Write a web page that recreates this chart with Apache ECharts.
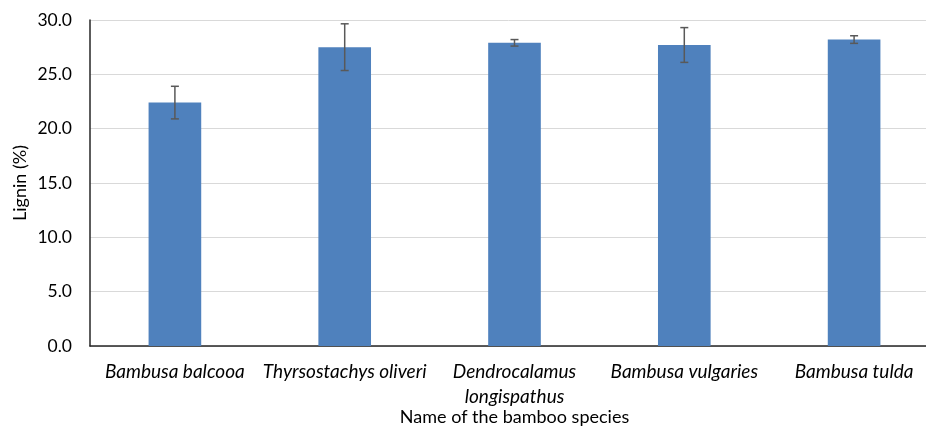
<!DOCTYPE html>
<html><head><meta charset="utf-8">
<script src="https://cdn.jsdelivr.net/npm/echarts@6/dist/echarts.min.js"></script>
<style>html,body{margin:0;padding:0;background:#fff}#c{width:926px;height:426px}</style>
</head><body><div id="c"></div>
<script>
var categories = ['Bambusa balcooa','Thyrsostachys oliveri','Dendrocalamus\nlongispathus','Bambusa vulgaries','Bambusa tulda'];
var lignin = [22.4, 27.5, 27.9, 27.7, 28.2];
var errors = [1.5, 2.15, 0.3, 1.6, 0.35];
var yTicks = {min: 0, max: 30, interval: 5};

var chart = echarts.init(document.getElementById('c'));
var errData = lignin.map(function(v,i){return [i, v - errors[i], v + errors[i]];});
chart.setOption({
  animation: false,
  grid: {left: 90, top: 20, width: 849, height: 326, outerBoundsMode: 'none', containLabel: false},
  xAxis: {
    type: 'category', data: categories,
    name: 'Name of the bamboo species', nameLocation: 'middle', nameGap: 62, nameMoveOverlap: false,
    nameTextStyle: {fontFamily: 'Lato', fontSize: 18, color: '#000'},
    axisLine: {lineStyle: {color: '#262626', width: 1.5}},
    axisTick: {show: false},
    axisLabel: {fontFamily: 'Lato', fontStyle: 'italic', fontSize: 19, color: '#000', margin: 13, lineHeight: 25, interval: 0}
  },
  yAxis: {
    type: 'value', min: yTicks.min, max: yTicks.max, interval: yTicks.interval,
    name: 'Lignin (%)', nameLocation: 'middle', nameGap: 61, nameRotate: 90, nameMoveOverlap: false,
    nameTextStyle: {fontFamily: 'Lato', fontSize: 18, color: '#000'},
    axisLine: {show: true, lineStyle: {color: '#262626', width: 1.5}},
    axisTick: {show: false},
    splitLine: {lineStyle: {color: '#d9d9d9', width: 1}},
    axisLabel: {fontFamily: 'Lato', fontSize: 17.5, color: '#000', margin: 18, formatter: function(v){return v.toFixed(1);}}
  },
  series: [{
    type: 'bar', data: lignin, barWidth: '31%',
    itemStyle: {color: '#4f81bd'}
  },{
    type: 'custom', data: errData, z: 10,
    renderItem: function(params, api){
      var x = api.value(0);
      var lo = api.coord([x, api.value(1)]);
      var hi = api.coord([x, api.value(2)]);
      var w = 4;
      var st = {stroke: '#595959', lineWidth: 1.5};
      return {type: 'group', children: [
        {type: 'line', shape: {x1: lo[0], y1: lo[1], x2: hi[0], y2: hi[1]}, style: st},
        {type: 'line', shape: {x1: lo[0]-w, y1: lo[1], x2: lo[0]+w, y2: lo[1]}, style: st},
        {type: 'line', shape: {x1: hi[0]-w, y1: hi[1], x2: hi[0]+w, y2: hi[1]}, style: st}
      ]};
    }
  }]
});
</script></body></html>
